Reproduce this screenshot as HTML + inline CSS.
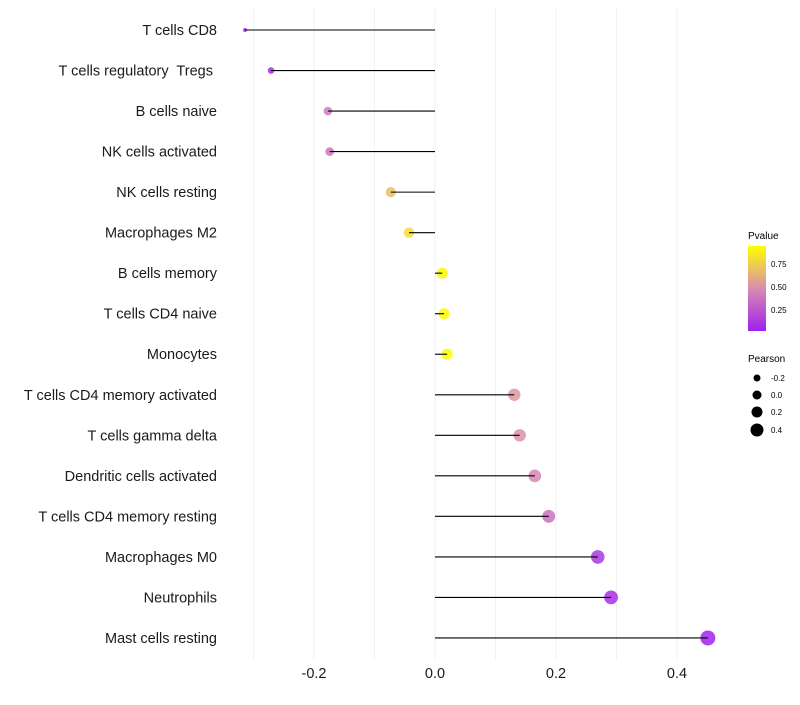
<!DOCTYPE html>
<html><head><meta charset="utf-8"><style>
body{margin:0;background:#fff;font-family:"Liberation Sans",sans-serif}
svg text{font-family:"Liberation Sans",sans-serif;white-space:pre}
</style></head><body>
<svg id="chart" width="800" height="700" xmlns="http://www.w3.org/2000/svg">
<defs><linearGradient id="pg" x1="0" y1="1" x2="0" y2="0">
<stop offset="0" stop-color="#a020f0"/><stop offset="0.5" stop-color="#d98cb0"/><stop offset="1" stop-color="#ffff00"/></linearGradient></defs>
<g id="grid"></g><g id="marks"></g><g id="ylabels"></g><g id="xlabels"></g>
<g>
<text x="748" y="239" font-size="10">Pvalue</text>
<rect x="748" y="246" width="18" height="85" fill="url(#pg)"/>
<text x="771" y="267" font-size="8">0.75</text>
<text x="771" y="290" font-size="8">0.50</text>
<text x="771" y="313" font-size="8">0.25</text>
</g>
<g>
<text x="748" y="362" font-size="10">Pearson</text>
<circle cx="757" cy="378" r="3.5"/>
<text x="771" y="381" font-size="8">-0.2</text>
<circle cx="757" cy="395" r="4.5"/>
<text x="771" y="398" font-size="8">0.0</text>
<circle cx="757" cy="412" r="5.5"/>
<text x="771" y="415" font-size="8">0.2</text>
<circle cx="757" cy="430" r="6.5"/>
<text x="771" y="433" font-size="8">0.4</text>
</g>
</svg>
<script>
const categories=["T cells CD8","T cells regulatory  Tregs ","B cells naive","NK cells activated","NK cells resting","Macrophages M2","B cells memory","T cells CD4 naive","Monocytes","T cells CD4 memory activated","T cells gamma delta","Dendritic cells activated","T cells CD4 memory resting","Macrophages M0","Neutrophils","Mast cells resting"];
const pearson=[-0.314,-0.271,-0.177,-0.174,-0.073,-0.043,0.012,0.015,0.02,0.131,0.140,0.165,0.188,0.269,0.291,0.451];
const pvalue=[0.02,0.05,0.42,0.40,0.72,0.85,0.97,0.98,0.99,0.55,0.52,0.47,0.38,0.10,0.07,0.01];
const xTicks=[-0.2,0,0.2,0.4];
const xTickLabels=["-0.2","0.0","0.2","0.4"];
const gridVals=[-0.3,-0.2,-0.1,0,0.1,0.2,0.3,0.4];
const NS="http://www.w3.org/2000/svg";
const x=v=>435+v*605;
const y=i=>30+i*40.53;
const rad=v=>2+5.5*Math.sqrt(Math.max(0,(v+0.314)/0.765));
function lerp(a,b,t){return a.map((c,k)=>Math.round(c+(b[k]-c)*t));}
function col(p){const A=[160,32,240],M=[217,140,176],B=[255,255,0];const c=p<0.5?lerp(A,M,p/0.5):lerp(M,B,(p-0.5)/0.5);return `rgb(${c.join(',')})`;}
function mk(tag,attrs,parent){const e=document.createElementNS(NS,tag);for(const k in attrs)e.setAttribute(k,attrs[k]);parent.appendChild(e);return e;}
const grid=document.getElementById('grid'),marks=document.getElementById('marks'),yl=document.getElementById('ylabels'),xl=document.getElementById('xlabels');
gridVals.forEach(v=>{const l=mk('line',{x1:x(v),x2:x(v),y1:8,y2:660,stroke:'#f2f2f2','stroke-width':1},grid);

});
categories.forEach((c,i)=>{
const t=mk('text',{x:217,y:y(i)+5,'font-size':14.5,'text-anchor':'end',fill:'#1a1a1a'},yl);t.textContent=c;


const ci=mk('circle',{cx:x(pearson[i]),cy:y(i),r:rad(pearson[i]),fill:col(pvalue[i]),'fill-opacity':0.85},marks);


const s=mk('line',{x1:x(0),x2:x(pearson[i]),y1:y(i),y2:y(i),stroke:'#000','stroke-width':1.1},marks);


});
xTicks.forEach((v,i)=>{const t=mk('text',{x:x(v),y:678,'font-size':14.5,'text-anchor':'middle',fill:'#1a1a1a'},xl);t.textContent=xTickLabels[i];

});
</script>
</body></html>
